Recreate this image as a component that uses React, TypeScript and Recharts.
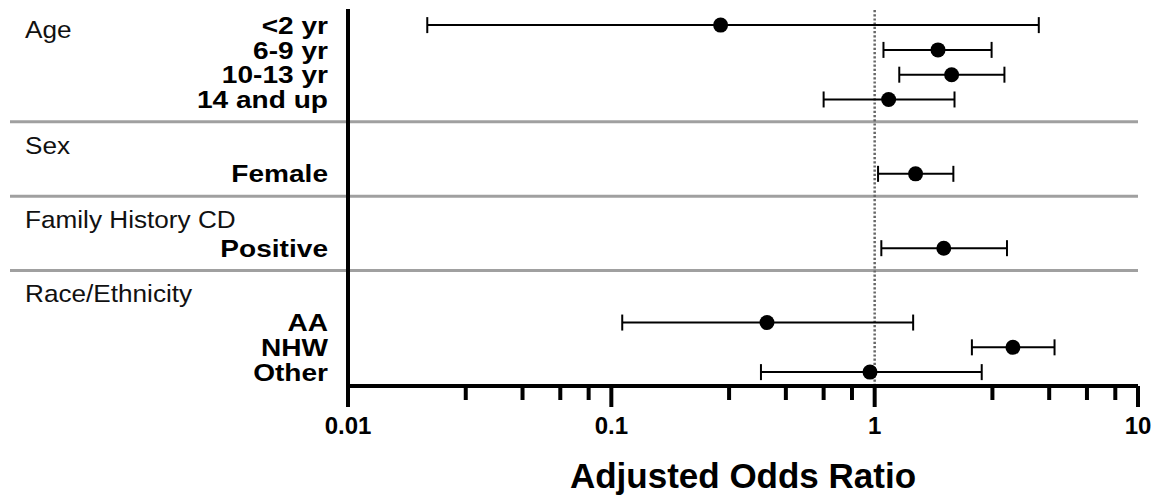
import React from 'react';
import { ScatterChart, Scatter, XAxis, YAxis, ErrorBar, ReferenceLine, Label } from 'recharts';

const groupNames = ['Age', 'Sex', 'Family History CD', 'Race/Ethnicity'];
const groupSizes = [4, 1, 1, 3];
const rowLabels = ['<2 yr', '6-9 yr', '10-13 yr', '14 and up', 'Female', 'Positive', 'AA', 'NHW', 'Other'];
const oddsRatio = [0.26, 1.74, 1.96, 1.13, 1.43, 1.83, 0.39, 3.35, 0.96];
const ciLow = [0.02, 1.08, 1.24, 0.64, 1.03, 1.06, 0.11, 2.34, 0.37];
const ciHigh = [4.2, 2.78, 3.11, 2.01, 1.99, 3.18, 1.4, 4.82, 2.55];
const majorTicks = [0.01, 0.1, 1, 10];
const minorTicks = [0.028, 0.046, 0.064, 0.082, 0.28, 0.46, 0.64, 0.82, 2.8, 4.6, 6.4, 8.2];

const FONT = '"Liberation Sans", Arial, Helvetica, sans-serif';

type Slot = { label?: string; header?: string; group?: number; sep?: boolean };

// lay out rows: first group header shares its row, the others get their own row
const slotMap = new Map<number, Slot>();
const rows: { x: number; y: number; err: number[] }[] = [];
const sepPositions: number[] = [];
let slot = 0;
let r = 0;
groupNames.forEach((name, g) => {
  if (g > 0) {
    const sy = slot - 0.1;
    sepPositions.push(sy);
    slotMap.set(sy, { sep: true });
    slot++;
    slotMap.set(slot, { header: name, group: g });
    slot++;
  }
  for (let k = 0; k < groupSizes[g]; k++) {
    const s: Slot = { label: rowLabels[r] };
    if (g === 0 && k === 0) {
      s.header = name;
      s.group = 0;
    }
    slotMap.set(slot, s);
    rows.push({ x: oddsRatio[r], y: slot, err: [oddsRatio[r] - ciLow[r], ciHigh[r] - oddsRatio[r]] });
    slot++;
    r++;
  }
});
const yTicks = Array.from(slotMap.keys());

const XTick = (props: any) => {
  const { x, y, payload } = props;
  const major = majorTicks.includes(payload.value);
  return (
    <g>
      <line x1={x} x2={x} y1={y} y2={y + (major ? 21 : 14)} stroke="#000" strokeWidth={4} />
      {major && (
        <text x={x} y={y + 48} textAnchor="middle" fontSize={24} fontWeight="bold" fontFamily={FONT} fill="#000">
          {String(payload.value)}
        </text>
      )}
    </g>
  );
};

const YTick = (props: any) => {
  const { x, y, payload } = props;
  const s = slotMap.get(payload.value);
  if (!s) return <g />;
  if (s.sep) {
    return <line x1={10} x2={x - 2} y1={y} y2={y} stroke="#a0a0a0" strokeWidth={3} />;
  }
  const hy = y + (s.group === 0 ? 4 : -4);
  return (
    <g>
      {s.header && (
        <text
          transform={`translate(25,${hy}) scale(1.09,1)`}
          dy="0.36em"
          fontSize={24}
          fontFamily={FONT}
          fill="#111"
        >
          {s.header}
        </text>
      )}
      {s.label && (
        <text
          transform={`translate(${x - 20},${y}) scale(1.17,1)`}
          dy="0.36em"
          textAnchor="end"
          fontSize={24}
          fontWeight="bold"
          fontFamily={FONT}
          fill="#000"
        >
          {s.label}
        </text>
      )}
    </g>
  );
};

const Dot = (props: any) => <circle cx={props.cx} cy={props.cy} r={7.5} fill="#000" />;

export default function App() {
  return (
    <div style={{ position: 'absolute', left: 0, top: 0, width: 1166, height: 500, background: '#fff', fontFamily: FONT }}>
      <ScatterChart width={1166} height={500} margin={{ top: 9, right: 28, bottom: 0, left: 0 }}>
        <XAxis
          type="number"
          dataKey="x"
          scale="log"
          domain={[0.01, 10]}
          allowDataOverflow
          ticks={[...majorTicks, ...minorTicks]}
          interval={0}
          tick={<XTick />}
          tickLine={false}
          tickSize={0}
          tickMargin={0}
          height={114}
          axisLine={{ stroke: '#000', strokeWidth: 4 }}
        >
          <Label
            value="Adjusted Odds Ratio"
            position="insideBottom"
            offset={12}
            style={{ fontSize: 35, fontWeight: 700, fill: '#000', fontFamily: FONT }}
          />
        </XAxis>
        <YAxis
          type="number"
          dataKey="y"
          domain={[-0.65, 14.56]}
          reversed
          allowDataOverflow
          ticks={yTicks}
          interval={0}
          tick={<YTick />}
          tickLine={false}
          tickSize={0}
          tickMargin={0}
          width={348}
          axisLine={{ stroke: '#000', strokeWidth: 4 }}
        />
        {sepPositions.map((p) => (
          <ReferenceLine key={p} y={p} stroke="#a0a0a0" strokeWidth={3} />
        ))}
        <ReferenceLine x={1} stroke="#666" strokeWidth={2.5} strokeDasharray="2.2 2" />
        <Scatter data={rows} shape={<Dot />} isAnimationActive={false}>
          <ErrorBar dataKey="err" direction="x" width={8} stroke="#000" strokeWidth={2} />
        </Scatter>
      </ScatterChart>
    </div>
  );
}
